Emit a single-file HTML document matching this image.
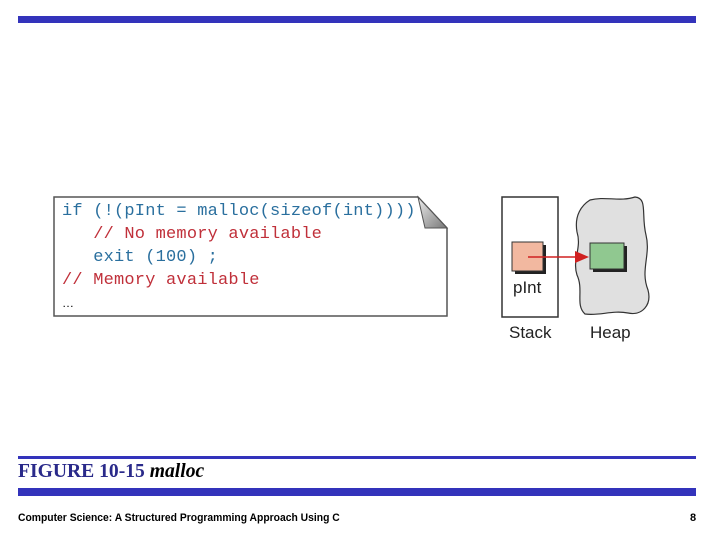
<!DOCTYPE html>
<html><head><style>
body{margin:0;width:720px;height:540px;background:#fff;position:relative;overflow:hidden;font-family:"Liberation Sans",sans-serif}
.bar{position:absolute;left:18px;width:678px;background:#3333bb}
.code{position:absolute;font-family:"Liberation Mono",monospace;font-size:17px;letter-spacing:0.2px;white-space:pre;line-height:23px}
.b{color:#2a6f9e}.r{color:#c0303a}
</style></head><body>
<div class="bar" style="top:16px;height:7px"></div>
<div class="bar" style="top:456px;height:3px"></div>
<div class="bar" style="top:488px;height:8px"></div>
<div style="position:absolute;left:18px;top:460px;font-family:'Liberation Serif',serif;font-size:20px;font-weight:bold;color:#2a2a8a;transform:scaleX(0.98);transform-origin:left">FIGURE 10-15 <i style="color:#000"> malloc</i></div>
<div style="position:absolute;left:18px;top:512px;font-size:11px;font-weight:bold;color:#000;transform:scaleX(0.94);transform-origin:left;white-space:nowrap">Computer Science: A Structured Programming Approach Using C</div>
<div style="position:absolute;left:690px;top:512px;font-size:11px;font-weight:bold">8</div>
<svg width="720" height="540" style="position:absolute;left:0;top:0">
<defs><linearGradient id="g" x1="0" y1="0" x2="1" y2="1"><stop offset="0" stop-color="#eee"/><stop offset="1" stop-color="#777"/></linearGradient></defs>
<path d="M54 197 H418 L447 228 V316 H54 Z" fill="#fff" stroke="#555" stroke-width="1.5"/>
<path d="M418 197 L447 228 H425 Z" fill="url(#g)" stroke="#555"/>
<rect x="502" y="197" width="56" height="120" fill="#fff" stroke="#333" stroke-width="1.5"/>
<path d="M590 200 C605 196 620 202 635 197 C648 198 641 215 646 235 C651 255 640 270 648 290 C652 305 642 316 628 313 C612 310 600 316 585 314 C575 305 584 290 577 275 C572 260 582 248 577 232 C574 215 582 205 590 200 Z" fill="#e0e0e0" stroke="#333" stroke-width="1.2"/>
<rect x="515" y="245" width="31" height="29" fill="#222"/>
<rect x="512" y="242" width="31" height="29" fill="#f2b8a0" stroke="#333"/>
<rect x="593" y="246" width="34" height="26" fill="#222"/>
<rect x="590" y="243" width="34" height="26" fill="#90c890" stroke="#333"/>
<line x1="528" y1="257" x2="578" y2="257" stroke="#d02020" stroke-width="1.5"/>
<path d="M575 251 L589 257 L575 263 Z" fill="#d02020"/>
<text x="513" y="293" font-size="17" font-family="Liberation Sans" fill="#222">pInt</text>
<text x="509" y="338" font-size="17" font-family="Liberation Sans" fill="#222">Stack</text>
<text x="590" y="338" font-size="17" font-family="Liberation Sans" fill="#222">Heap</text>
</svg>
<div class="code" style="left:62px;top:200px"><span class="b">if (!(pInt = malloc(sizeof(int))))</span>
<span class="r">   // No memory available</span>
<span class="b">   exit (100) ;</span>
<span class="r">// Memory available</span>
<span style="font-size:12px;font-family:'Liberation Sans'">…</span></div>
</body></html>
